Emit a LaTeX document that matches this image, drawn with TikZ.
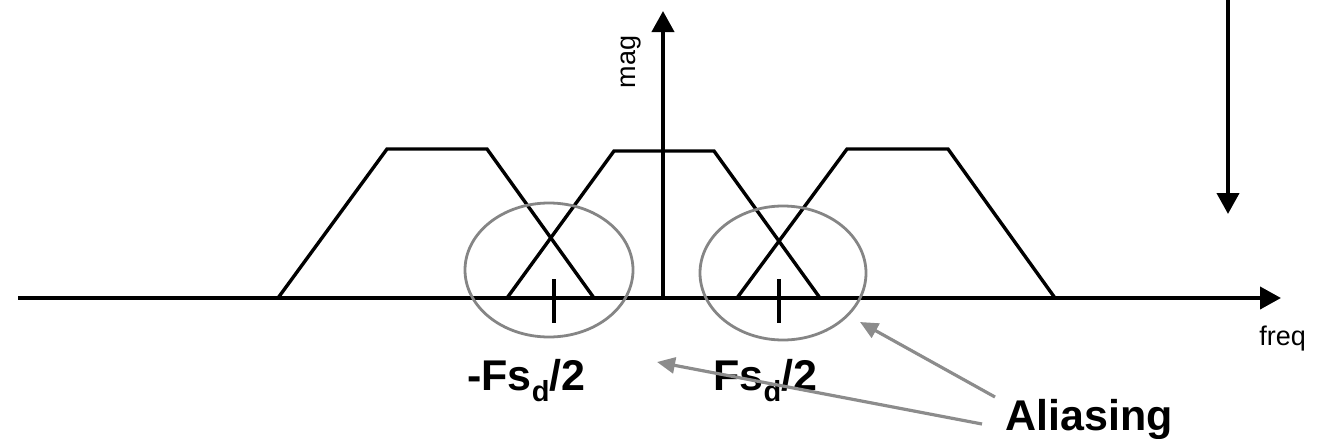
\documentclass[tikz,border=0pt]{standalone}
\usepackage{fontspec}
\setmainfont{Liberation Sans}
\usetikzlibrary{arrows.meta,shapes.geometric}
\tikzset{
  axis/.style={line width=2pt,-{Triangle[length=10.5pt,width=11pt]}},
  spec/.style={line width=1.7pt,line join=miter},
  tick/.style={line width=2pt},
  ring/.style={draw=black!48,line width=1.4pt,ellipse,inner sep=0pt},
  pointer/.style={draw=black!45,line width=1.6pt,-{Triangle[length=9pt,width=8pt]}},
  biglabel/.style={font=\bfseries\fontsize{21.5}{24}\selectfont,inner sep=0pt},
  smalllabel/.style={font=\fontsize{13.5}{15}\selectfont,inner sep=0pt},
}
\newcommand{\subd}{\raisebox{-5.5pt}{\fontsize{14.5}{15}\selectfont d}}
\begin{document}
\begin{tikzpicture}[x=0.5pt,y=-0.5pt]
\useasboundingbox (0,0) rectangle (1317,439);
% axes
\coordinate (xs) at (18,298);
\coordinate (xe) at (1281,298);
\coordinate (ys) at (663,298);
\coordinate (ye) at (663,11);
\draw[axis] (xs) -- (xe);
\draw[axis] (ys) -- (ye);
% down arrow on the right
\coordinate (ds) at (1228,0);
\coordinate (de) at (1228,214);
\draw[axis] (ds) -- (de);
% spectra
\draw[spec] (278,298) -- (387,149) -- (487,149) -- (594,298);
\draw[spec] (507,298) -- (614,151) -- (714,151) -- (820,298);
\draw[spec] (737,298) -- (847,149) -- (948,149) -- (1055,298);
% ticks
\coordinate (t1a) at (554,279); \coordinate (t1b) at (554,323);
\coordinate (t2a) at (779,279); \coordinate (t2b) at (779,323);
\draw[tick] (t1a) -- (t1b);
\draw[tick] (t2a) -- (t2b);
% aliasing rings
\node[ring,minimum width=84pt,minimum height=67pt] (r1) at (549,270) {};
\node[ring,minimum width=83pt,minimum height=67pt] (r2) at (783,273) {};
% labels
\node[smalllabel,rotate=90] (mag) at (631,62) {mag};
\node[smalllabel,anchor=base west] (freq) at (1259,345) {freq};
\node[biglabel,anchor=base west] (lneg) at (467,390) {-Fs\subd/2};
\node[biglabel,anchor=base west] (lpos) at (713,390) {Fs\subd/2};
\node[biglabel,anchor=base west] (alias) at (1005,430) {Aliasing};
% pointers
\coordinate (p1s) at (995,397);
\coordinate (p1e) at (860,322);
\coordinate (p2s) at (982,424);
\coordinate (p2e) at (657,362);
\draw[pointer] (p1s) -- (p1e);
\draw[pointer] (p2s) -- (p2e);
\end{tikzpicture}
\end{document}
